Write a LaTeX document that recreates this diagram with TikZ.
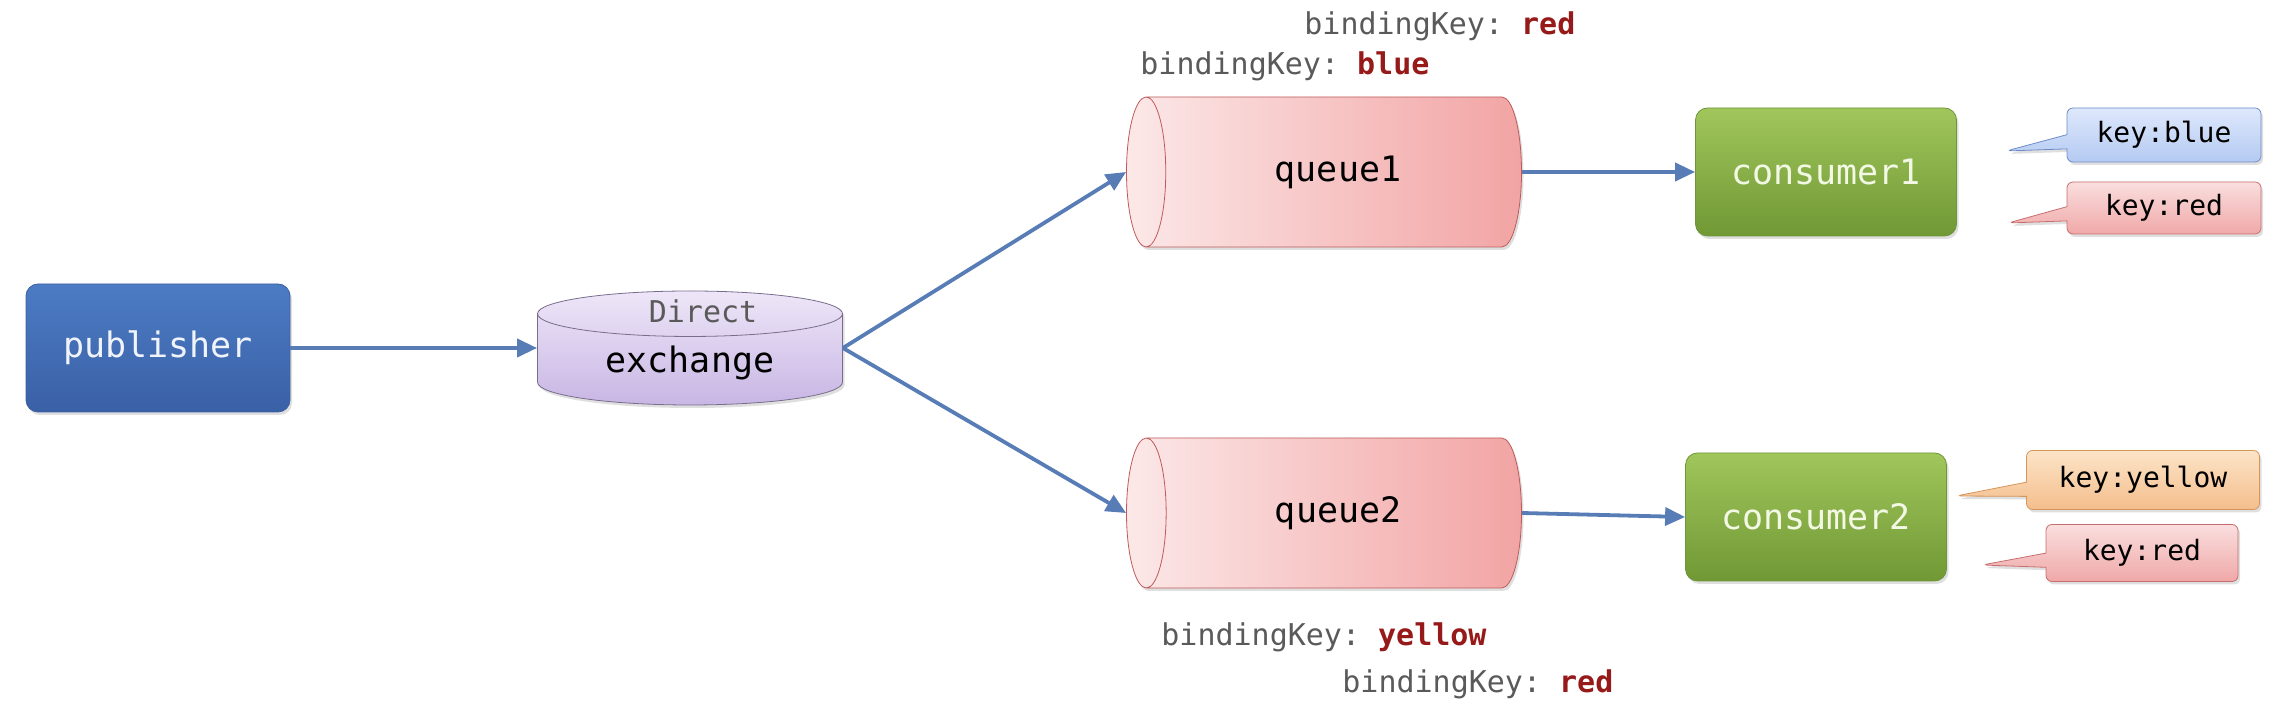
\documentclass[tikz,border=0pt]{standalone}
\usepackage{fontspec}
\setmonofont{DejaVu Sans Mono}
\usepackage{xcolor}
\usepackage{tikz}
\usetikzlibrary{shapes.geometric,shapes.callouts,arrows.meta,shadows}

\definecolor{arrowblue}{RGB}{88,124,182}
\definecolor{keygray}{RGB}{90,90,90}
\definecolor{keyred}{RGB}{150,26,26}

\tikzset{
	boxshadow/.style={drop shadow={opacity=0.25,shadow xshift=1pt,shadow yshift=-1.5pt}},
	pubbox/.style={rectangle, rounded corners=6pt, draw={rgb,255:red,60;green,95;blue,160}, top color={rgb,255:red,76;green,124;blue,196}, bottom color={rgb,255:red,58;green,96;blue,166}, text={rgb,255:red,240;green,244;blue,250}, minimum width=132pt, minimum height=64pt, font=\ttfamily\fontsize{17.5}{20}\selectfont, boxshadow},
	exbox/.style={cylinder, shape border rotate=90, aspect=0.25, draw={rgb,255:red,120;green,110;blue,140}, top color={rgb,255:red,238;green,230;blue,248}, bottom color={rgb,255:red,200;green,182;blue,228}, minimum width=152.5pt, minimum height=57pt, font=\ttfamily\fontsize{17.5}{20}\selectfont, boxshadow},
	queuebox/.style={cylinder, shape border rotate=180, aspect=0.85, draw={rgb,255:red,190;green,90;blue,90}, left color={rgb,255:red,252;green,232;blue,232}, right color={rgb,255:red,242;green,164;blue,164}, minimum width=75pt, minimum height=197.5pt, font=\ttfamily\fontsize{17.5}{20}\selectfont, boxshadow},
	conbox/.style={rectangle, rounded corners=6pt, draw={rgb,255:red,110;green,150;blue,60}, top color={rgb,255:red,160;green,198;blue,92}, bottom color={rgb,255:red,112;green,152;blue,52}, text={rgb,255:red,242;green,248;blue,228}, minimum width=130.5pt, minimum height=64pt, font=\ttfamily\fontsize{17.5}{20}\selectfont, boxshadow},
	keytag/.style={rectangle callout, rounded corners=3pt, minimum width=97pt, minimum height=27pt, font=\ttfamily\fontsize{14}{16}\selectfont, boxshadow},
	bluetag/.style={keytag, draw={rgb,255:red,110;green,140;blue,200}, top color={rgb,255:red,222;green,232;blue,252}, bottom color={rgb,255:red,180;green,202;blue,242}},
	redtag/.style={keytag, draw={rgb,255:red,200;green,110;blue,110}, top color={rgb,255:red,250;green,222;blue,222}, bottom color={rgb,255:red,240;green,168;blue,168}},
	yellowtag/.style={keytag, draw={rgb,255:red,214;green,150;blue,90}, top color={rgb,255:red,252;green,228;blue,200}, bottom color={rgb,255:red,244;green,190;blue,140}},
	bkey/.style={anchor=west, inner sep=0pt, text=keygray, font=\ttfamily\fontsize{15}{18}\selectfont},
	flow/.style={draw=arrowblue, line width=1.9pt, -{Triangle[length=10pt,width=9pt]}}
}

\begin{document}
\begin{tikzpicture}[x=0.5pt,y=0.5pt,yscale=-1,xscale=1]
		\useasboundingbox (0,0) rectangle (2282,704);
		
		%publisher and exchange
		\node [pubbox] (publisher) at (158,348) {publisher};
		\node [exbox, anchor=shape center] (exchange) at (690,348) {exchange};
		\node [font=\ttfamily\fontsize{15}{18}\selectfont, text=keygray, inner sep=0pt] (extype) at (703,311) {Direct};
		
		%queues
		\node [queuebox, anchor=shape center] (queue1) at (1324,172) {queue1};
		\node [queuebox, anchor=shape center] (queue2) at (1324,513) {queue2};
		
		%consumers
		\node [conbox] (consumer1) at (1826,172) {consumer1};
		\node [conbox] (consumer2) at (1816,517) {consumer2};
		
		%key tags
		\node [bluetag, callout absolute pointer={(2006,151)}] (c1blue) at (2164,135) {key:blue};
		\node [redtag, minimum height=26pt, callout absolute pointer={(2008,223)}] (c1red) at (2164,208) {key:red};
		\node [yellowtag, minimum width=116.5pt, minimum height=29.5pt, callout absolute pointer={(1956,496)}] (c2yellow) at (2143,480) {key:yellow};
		\node [redtag, minimum width=96pt, minimum height=28.5pt, callout absolute pointer={(1982,565)}] (c2red) at (2142,553) {key:red};
		
		%binding keys
		\node [bkey] (bk1red) at (1304,26) {bindingKey: \textcolor{keyred}{\textbf{red}}};
		\node [bkey] (bk1blue) at (1140,66) {bindingKey: \textcolor{keyred}{\textbf{blue}}};
		\node [bkey] (bk2yellow) at (1161,637) {bindingKey: \textcolor{keyred}{\textbf{yellow}}};
		\node [bkey] (bk2red) at (1342,684) {bindingKey: \textcolor{keyred}{\textbf{red}}};
		
		%arrows
		\draw [flow] (publisher.east) -- (publisher.east -| exchange.west);
		\draw [flow] (exchange.shape center -| exchange.east) -- (queue1.west);
		\draw [flow] (exchange.shape center -| exchange.east) -- (queue2.west);
		\draw [flow] (queue1.east) -- (consumer1.west);
		\draw [flow] (queue2.east) -- (consumer2.west);
		
\end{tikzpicture}
\end{document}
